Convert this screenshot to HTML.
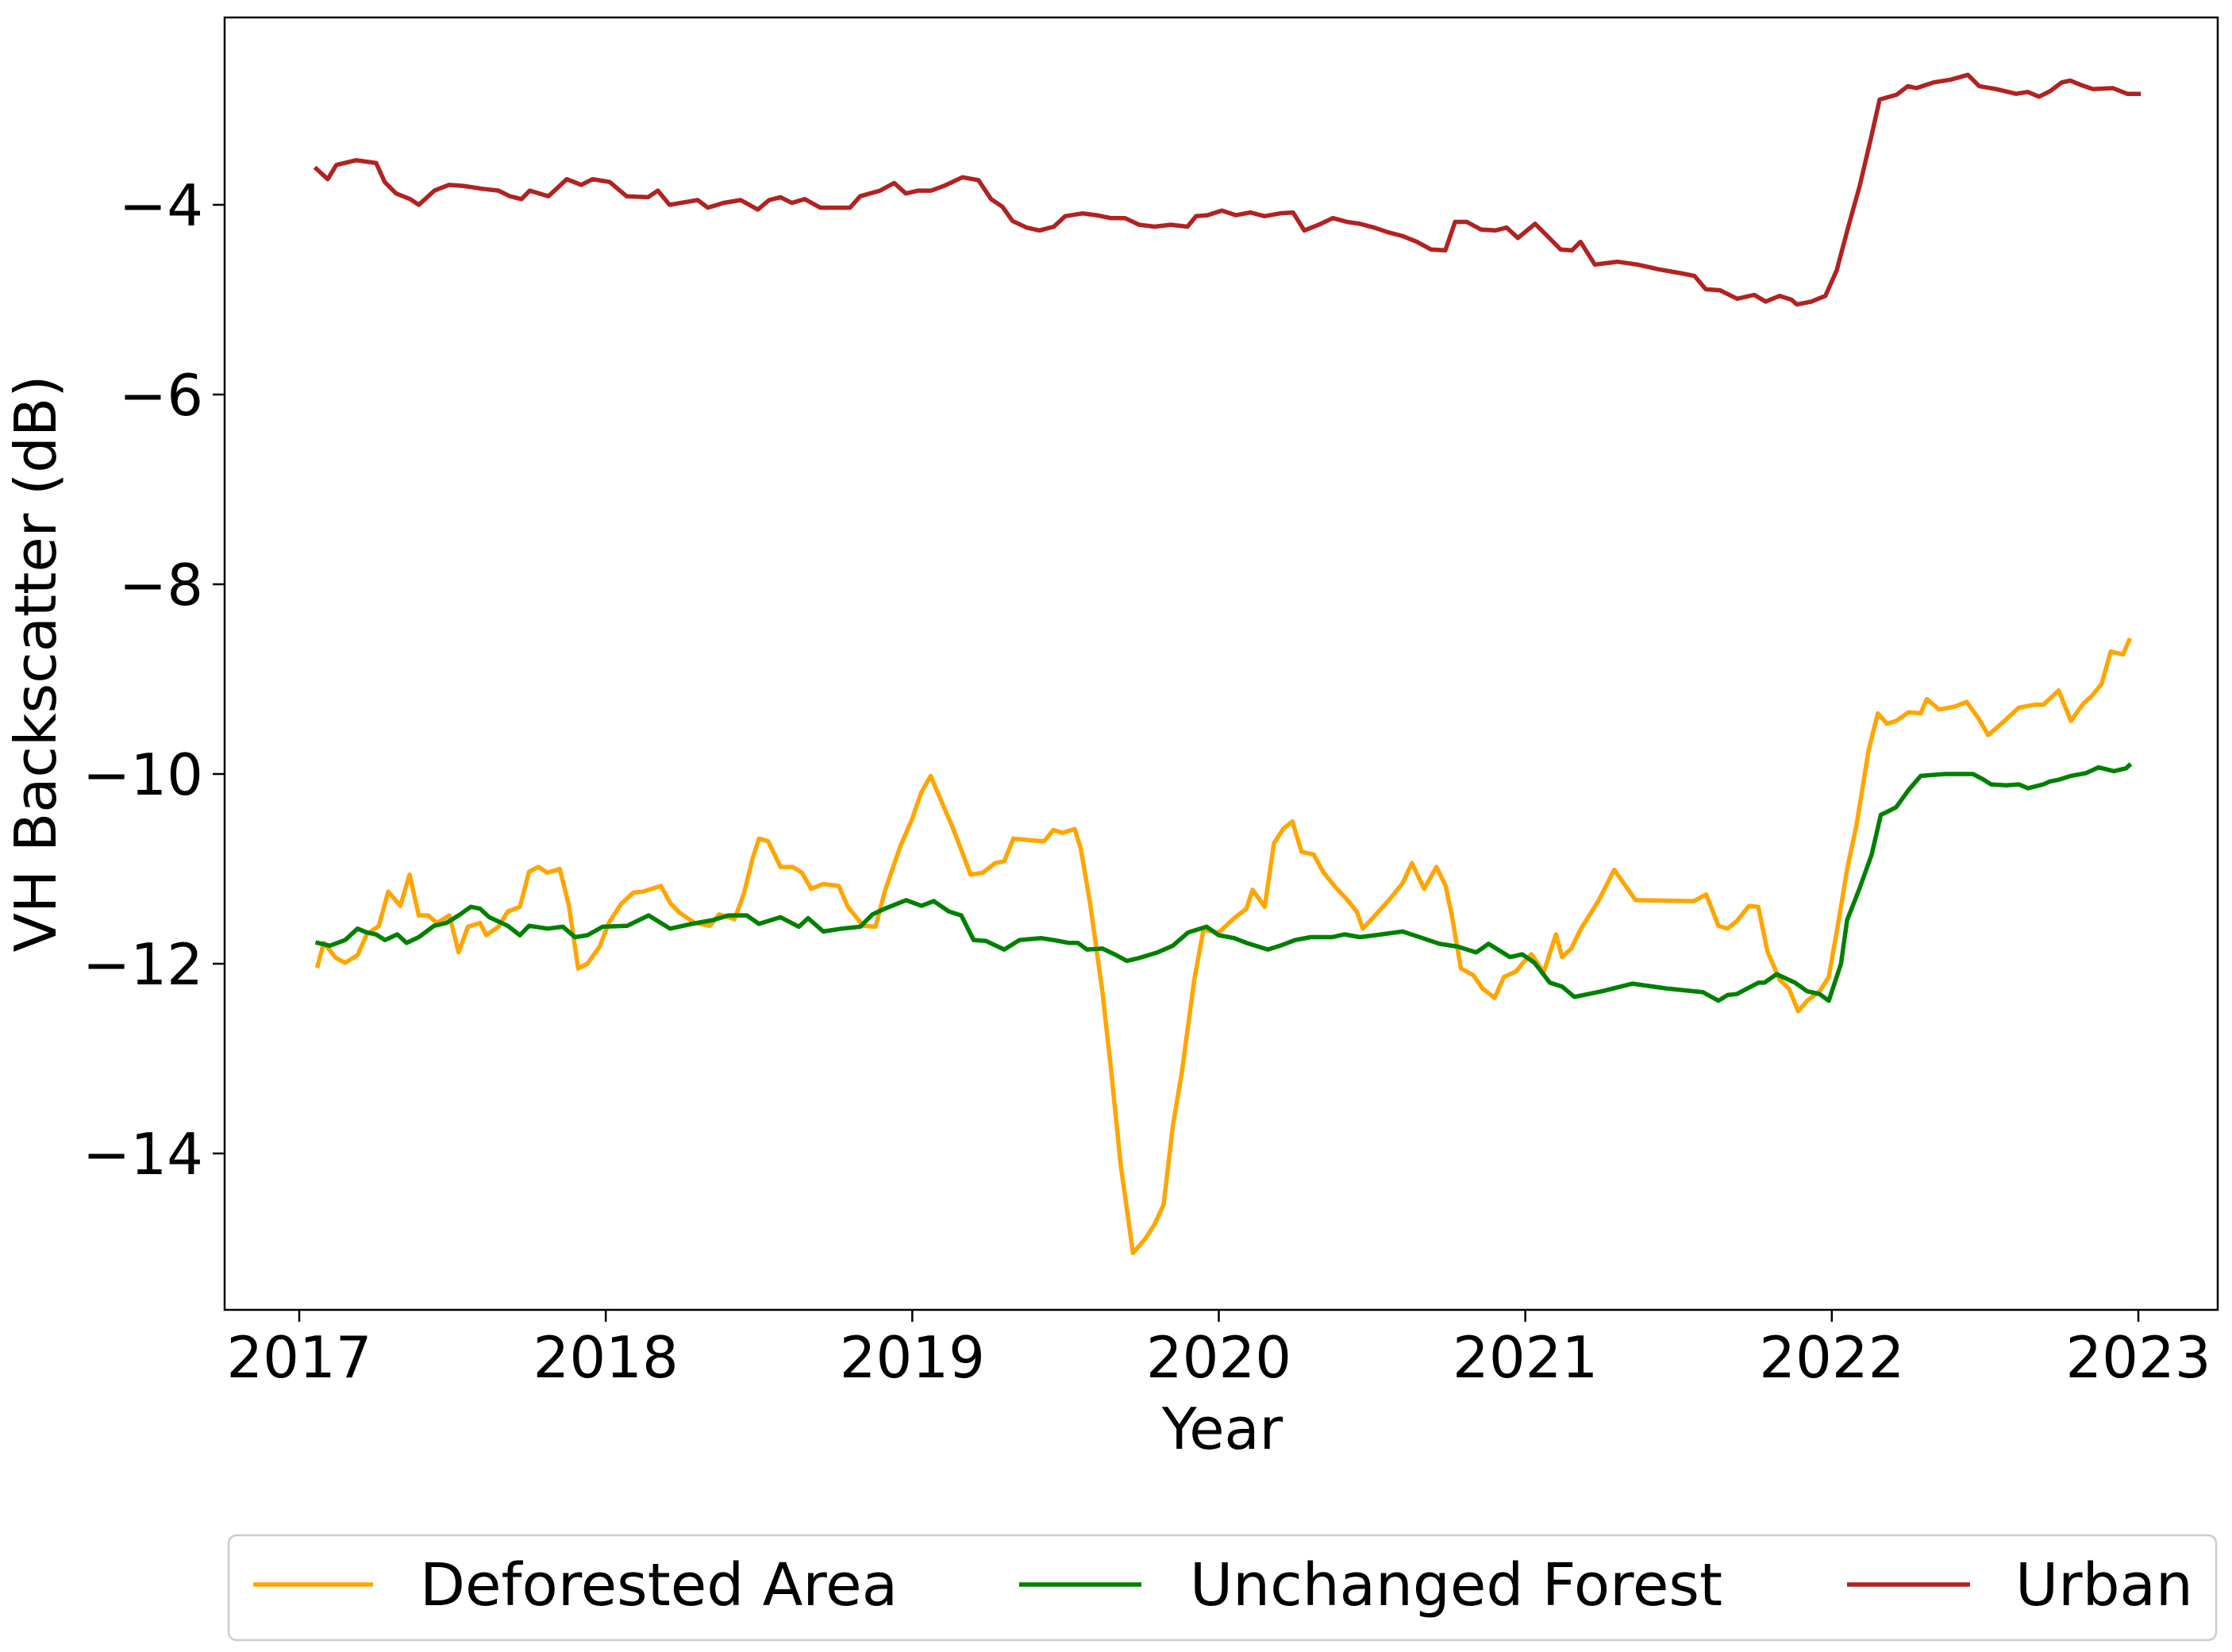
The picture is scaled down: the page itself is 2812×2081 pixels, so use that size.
<!DOCTYPE html>
<html><head><meta charset="utf-8">
<style>
html,body{margin:0;padding:0;background:#fff;}
svg{display:block;font-family:"DejaVu Sans","Liberation Sans",sans-serif;}
</style></head>
<body>
<svg id="chart" width="2812" height="2081" viewBox="0 0 2812 2081" xmlns="http://www.w3.org/2000/svg">
  <rect width="2812" height="2081" fill="#fff"/>
  <g id="series"></g>
  <rect x="283" y="22" width="2511" height="1628" fill="none" stroke="#000" stroke-width="2.5"/>
  <g id="xticks"></g>
  <g id="yticks"></g>
  <text x="1540" y="1825" font-size="72" text-anchor="middle">Year</text>
  <text transform="translate(70,836) rotate(-90)" font-size="72" text-anchor="middle">VH Backscatter (dB)</text>
  <g>
    <rect x="288" y="1934" width="2504" height="132" rx="10" fill="#fff" stroke="#ccc" stroke-width="2.5"/>
    <line x1="319" y1="1996" x2="470" y2="1996" stroke="#ffa500" stroke-width="5.5"/>
    <text x="529" y="2022" font-size="74">Deforested Area</text>
    <line x1="1284" y1="1996" x2="1438" y2="1996" stroke="#008000" stroke-width="5.5"/>
    <text x="1499" y="2022" font-size="74">Unchanged Forest</text>
    <line x1="2327" y1="1996" x2="2482" y2="1996" stroke="#b22222" stroke-width="5.5"/>
    <text x="2539" y="2022" font-size="74">Urban</text>
  </g>
</svg>
<script>
const xTickLabels = [2017, 2018, 2019, 2020, 2021, 2022, 2023];
const yTickValues = [-4, -6, -8, -10, -12, -14];

const urbanT = [0.056,0.093,0.121,0.186,0.251,0.279,0.316,0.362,0.39,0.441,0.488,0.534,0.595,0.65,0.687,0.725,0.752,0.813,0.873,0.92,0.957,1.013,1.068,1.138,1.17,1.208,1.245,1.3,1.333,1.384,1.44,1.496,1.533,1.57,1.607,1.649,1.7,1.797,1.83,1.895,1.941,1.979,2.02,2.062,2.104,2.164,2.216,2.257,2.294,2.327,2.373,2.415,2.462,2.499,2.555,2.601,2.647,2.694,2.74,2.791,2.843,2.898,2.926,2.963,3.01,3.056,3.103,3.149,3.2,3.242,3.279,3.326,3.372,3.418,3.46,3.507,3.553,3.6,3.646,3.692,3.739,3.771,3.809,3.855,3.902,3.939,3.976,4.032,4.069,4.115,4.152,4.18,4.227,4.301,4.366,4.436,4.505,4.552,4.589,4.635,4.691,4.747,4.784,4.83,4.868,4.886,4.933,4.979,5.016,5.053,5.091,5.128,5.156,5.211,5.248,5.276,5.332,5.388,5.444,5.481,5.536,5.601,5.639,5.676,5.713,5.75,5.778,5.815,5.852,5.917,5.964,6.001];
const urbanV = [-3.62,-3.73,-3.58,-3.53,-3.56,-3.76,-3.88,-3.94,-4.0,-3.85,-3.79,-3.8,-3.83,-3.85,-3.91,-3.94,-3.85,-3.91,-3.73,-3.79,-3.73,-3.76,-3.91,-3.92,-3.85,-4.0,-3.98,-3.95,-4.03,-3.98,-3.95,-4.05,-3.95,-3.92,-3.98,-3.94,-4.03,-4.03,-3.91,-3.85,-3.77,-3.88,-3.85,-3.85,-3.8,-3.71,-3.74,-3.94,-4.02,-4.17,-4.24,-4.27,-4.23,-4.12,-4.09,-4.11,-4.14,-4.14,-4.21,-4.23,-4.21,-4.23,-4.12,-4.11,-4.06,-4.11,-4.08,-4.12,-4.09,-4.08,-4.27,-4.21,-4.14,-4.18,-4.2,-4.24,-4.29,-4.33,-4.39,-4.47,-4.48,-4.18,-4.18,-4.26,-4.27,-4.24,-4.35,-4.2,-4.32,-4.47,-4.48,-4.39,-4.63,-4.6,-4.63,-4.68,-4.72,-4.75,-4.89,-4.9,-4.99,-4.95,-5.02,-4.96,-5.0,-5.05,-5.02,-4.96,-4.69,-4.24,-3.8,-3.29,-2.89,-2.84,-2.75,-2.77,-2.71,-2.68,-2.63,-2.75,-2.78,-2.83,-2.81,-2.86,-2.8,-2.71,-2.69,-2.74,-2.78,-2.77,-2.83,-2.83];

const defT = [.06,.08,.12,.15,.19,.22,.26,.29,.33,.36,.39,.42,.45,.49,.52,.55,.59,.61,.65,.68,.72,.75,.78,.81,.85,.88,.91,.94,.98,1.01,1.05,1.09,1.12,1.15,1.18,1.21,1.24,1.29,1.34,1.37,1.42,1.45,1.48,1.50,1.53,1.57,1.61,1.64,1.67,1.71,1.76,1.79,1.84,1.88,1.91,1.96,2.00,2.03,2.06,2.09,2.13,2.16,2.19,2.23,2.27,2.30,2.33,2.39,2.43,2.46,2.49,2.53,2.55,2.58,2.62,2.65,2.68,2.72,2.76,2.79,2.82,2.85,2.88,2.92,2.95,3.00,3.05,3.09,3.11,3.15,3.18,3.21,3.24,3.27,3.31,3.34,3.38,3.42,3.45,3.47,3.51,3.56,3.60,3.63,3.67,3.71,3.74,3.76,3.79,3.83,3.86,3.90,3.93,3.97,3.99,4.02,4.06,4.10,4.12,4.15,4.18,4.24,4.29,4.36,4.55,4.59,4.63,4.66,4.69,4.73,4.76,4.79,4.83,4.86,4.89,4.92,4.96,4.99,5.03,5.05,5.08,5.12,5.15,5.18,5.21,5.25,5.29,5.31,5.35,5.40,5.44,5.48,5.51,5.56,5.61,5.66,5.69,5.74,5.78,5.82,5.85,5.88,5.91,5.95,5.97];
const defV = [-12.02,-11.78,-11.94,-11.99,-11.91,-11.69,-11.6,-11.24,-11.39,-11.06,-11.49,-11.49,-11.57,-11.49,-11.88,-11.61,-11.57,-11.7,-11.61,-11.45,-11.4,-11.03,-10.98,-11.04,-11.0,-11.39,-12.05,-12.0,-11.82,-11.57,-11.37,-11.25,-11.24,-11.21,-11.18,-11.36,-11.46,-11.57,-11.6,-11.48,-11.53,-11.27,-10.88,-10.68,-10.71,-10.98,-10.98,-11.04,-11.21,-11.16,-11.18,-11.4,-11.6,-11.61,-11.24,-10.77,-10.47,-10.19,-10.02,-10.25,-10.55,-10.8,-11.06,-11.04,-10.94,-10.92,-10.68,-10.7,-10.71,-10.59,-10.62,-10.58,-10.79,-11.36,-12.29,-13.16,-14.12,-15.05,-14.9,-14.75,-14.54,-13.71,-13.13,-12.17,-11.64,-11.67,-11.52,-11.42,-11.22,-11.4,-10.73,-10.58,-10.5,-10.82,-10.85,-11.03,-11.19,-11.33,-11.45,-11.63,-11.49,-11.31,-11.15,-10.94,-11.21,-10.98,-11.18,-11.49,-12.05,-12.12,-12.26,-12.36,-12.14,-12.08,-12.0,-11.9,-12.09,-11.69,-11.93,-11.84,-11.64,-11.33,-11.01,-11.33,-11.34,-11.27,-11.6,-11.63,-11.55,-11.39,-11.4,-11.87,-12.17,-12.26,-12.5,-12.39,-12.29,-12.14,-11.4,-11.0,-10.55,-9.75,-9.36,-9.47,-9.44,-9.35,-9.36,-9.21,-9.32,-9.29,-9.24,-9.42,-9.59,-9.45,-9.3,-9.27,-9.27,-9.12,-9.44,-9.26,-9.17,-9.05,-8.71,-8.74,-8.59];

const forT = [.06,.10,.15,.19,.22,.25,.28,.32,.35,.39,.44,.48,.52,.56,.59,.62,.68,.72,.75,.81,.86,.90,.94,.99,1.07,1.14,1.21,1.28,1.35,1.40,1.46,1.50,1.57,1.63,1.66,1.71,1.77,1.83,1.87,1.91,1.98,2.03,2.07,2.12,2.16,2.20,2.24,2.28,2.30,2.35,2.42,2.46,2.51,2.54,2.57,2.62,2.66,2.70,2.74,2.80,2.85,2.90,2.96,3.00,3.05,3.09,3.16,3.20,3.25,3.30,3.37,3.41,3.46,3.51,3.60,3.72,3.78,3.84,3.88,3.95,3.99,4.03,4.08,4.12,4.16,4.25,4.35,4.46,4.58,4.63,4.66,4.69,4.76,4.78,4.82,4.88,4.92,4.96,4.99,5.03,5.05,5.09,5.13,5.16,5.18,5.21,5.25,5.29,5.37,5.46,5.49,5.52,5.57,5.61,5.64,5.69,5.71,5.74,5.78,5.83,5.87,5.92,5.96,5.97];
const forV = [-11.78,-11.81,-11.75,-11.63,-11.67,-11.69,-11.75,-11.69,-11.78,-11.72,-11.6,-11.57,-11.49,-11.4,-11.42,-11.51,-11.6,-11.7,-11.6,-11.63,-11.61,-11.72,-11.7,-11.61,-11.6,-11.49,-11.63,-11.58,-11.54,-11.49,-11.49,-11.58,-11.51,-11.61,-11.52,-11.66,-11.63,-11.61,-11.48,-11.42,-11.33,-11.39,-11.34,-11.45,-11.49,-11.75,-11.76,-11.82,-11.85,-11.75,-11.73,-11.75,-11.78,-11.78,-11.85,-11.84,-11.9,-11.97,-11.94,-11.88,-11.81,-11.67,-11.61,-11.7,-11.73,-11.78,-11.85,-11.81,-11.75,-11.72,-11.72,-11.69,-11.72,-11.7,-11.66,-11.79,-11.82,-11.88,-11.79,-11.93,-11.9,-11.99,-12.2,-12.24,-12.35,-12.29,-12.21,-12.26,-12.3,-12.39,-12.33,-12.32,-12.2,-12.2,-12.11,-12.2,-12.29,-12.32,-12.39,-12.0,-11.54,-11.21,-10.85,-10.43,-10.4,-10.35,-10.17,-10.02,-10.0,-10.0,-10.05,-10.11,-10.12,-10.11,-10.15,-10.11,-10.08,-10.06,-10.02,-9.99,-9.93,-9.97,-9.94,-9.91];

const NS = 'http://www.w3.org/2000/svg';
function xScale(yearOffset){ return 377 + yearOffset * (2694 - 377) / 6; }
function yScale(v){ return 258 + (-4 - v) * 119.5; }

const xg = document.getElementById('xticks');
xTickLabels.forEach((yr) => {
  const x = xScale(yr - 2017);
  const t = document.createElementNS(NS, 'line');
  
  
  t.setAttribute('x1', x); t.setAttribute('x2', x);
  t.setAttribute('y1', 1650); t.setAttribute('y2', 1665);
  t.setAttribute('stroke', '#000'); t.setAttribute('stroke-width', '2.5');
  xg.appendChild(t);
  const l = document.createElementNS(NS, 'text');
  
  
  l.setAttribute('x', x); l.setAttribute('y', 1735);
  l.setAttribute('font-size', '72'); l.setAttribute('text-anchor', 'middle');
  l.textContent = yr;
  xg.appendChild(l);
});

const yg = document.getElementById('yticks');
yTickValues.forEach((v) => {
  const y = yScale(v);
  const t = document.createElementNS(NS, 'line');
  
  
  t.setAttribute('x1', 268); t.setAttribute('x2', 283);
  t.setAttribute('y1', y); t.setAttribute('y2', y);
  t.setAttribute('stroke', '#000'); t.setAttribute('stroke-width', '2.5');
  yg.appendChild(t);
  const l = document.createElementNS(NS, 'text');
  
  
  l.setAttribute('x', 256); l.setAttribute('y', y + 26);
  l.setAttribute('font-size', '72'); l.setAttribute('text-anchor', 'end');
  l.textContent = '\u2212' + Math.abs(v);
  yg.appendChild(l);
});

const sg = document.getElementById('series');
function drawLine(ts, vs, color, name){
  const p = document.createElementNS(NS, 'polyline');
  
  
  p.setAttribute('points', ts.map((t, i) => xScale(t).toFixed(1) + ',' + yScale(vs[i]).toFixed(1)).join(' '));
  p.setAttribute('fill', 'none');
  p.setAttribute('stroke', color);
  p.setAttribute('stroke-width', '5.5');
  p.setAttribute('stroke-linejoin', 'round');
  p.setAttribute('stroke-linecap', 'square');
  sg.appendChild(p);
}
drawLine(urbanT, urbanV, '#b22222', 'urban-line');
drawLine(defT, defV, '#ffa500', 'deforested-area-line');
drawLine(forT, forV, '#008000', 'unchanged-forest-line');
</script>
</body></html>
